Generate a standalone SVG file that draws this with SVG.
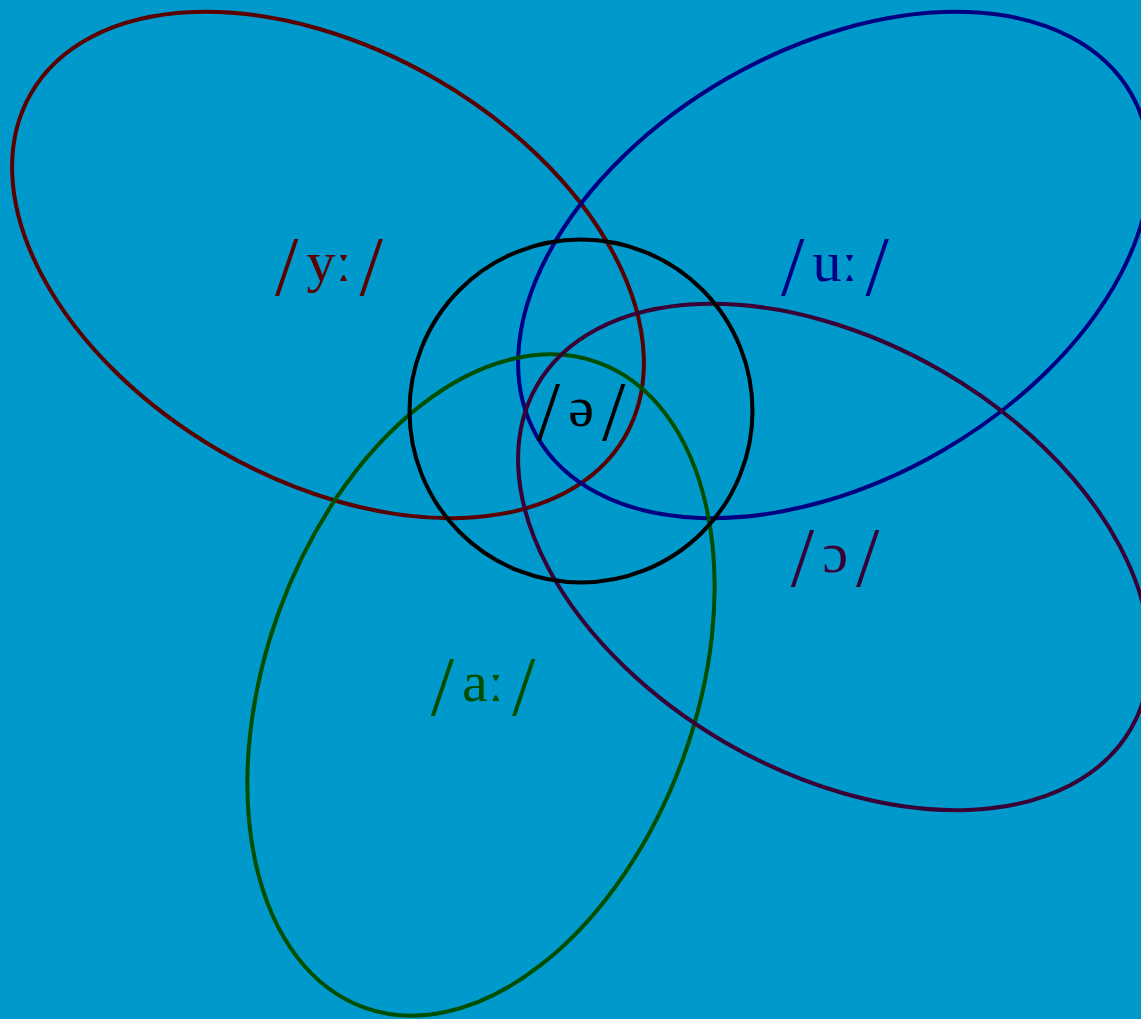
<svg xmlns="http://www.w3.org/2000/svg" width="1141" height="1019" viewBox="0 0 1141 1019">
<style>
.e{fill:none;stroke-width:4}
.t{font-family:"Liberation Serif","DejaVu Serif",serif;font-size:58px;text-anchor:middle}
.s{font-size:84px;font-weight:normal}
</style>
<rect width="1141" height="1019" fill="#0099cc"/>
<g id="connectors"></g>
<g id="set-y"><ellipse class="e" cx="328" cy="265" rx="343" ry="215" transform="rotate(30 328 265)" stroke="#5a0000"/></g>
<g id="set-u"><ellipse class="e" cx="834" cy="265" rx="343" ry="215" transform="rotate(-30 834 265)" stroke="#000080"/></g>
<g id="set-a"><ellipse class="e" cx="481" cy="685" rx="343" ry="215" transform="rotate(-70 481 685)" stroke="#004f00"/></g>
<g id="set-o"><ellipse class="e" cx="834" cy="557" rx="343" ry="215" transform="rotate(30 834 557)" stroke="#380035"/></g>
<g id="set-schwa"><circle class="e" cx="581" cy="411" r="171.5" stroke="#000"/></g>
<g id="label-y"><text class="t" x="329" y="281" fill="#5a0000"><tspan class="s" dy="14">/</tspan><tspan dx="8" dy="-14">yː</tspan><tspan class="s" dx="8" dy="14">/</tspan></text></g>
<g id="label-u"><text class="t" x="835" y="281" fill="#000080"><tspan class="s" dy="14">/</tspan><tspan dx="8" dy="-14">uː</tspan><tspan class="s" dx="8" dy="14">/</tspan></text></g>
<g id="label-schwa"><text class="t" x="581" y="426" fill="#000"><tspan class="s" dy="14">/</tspan><tspan dx="8" dy="-14">ə</tspan><tspan class="s" dx="8" dy="14">/</tspan></text></g>
<g id="label-o"><text class="t" x="835" y="572" fill="#380035"><tspan class="s" dy="14">/</tspan><tspan dx="8" dy="-14">ɔ</tspan><tspan class="s" dx="8" dy="14">/</tspan></text></g>
<g id="label-a"><text class="t" x="483" y="701" fill="#004f00"><tspan class="s" dy="14">/</tspan><tspan dx="8" dy="-14">aː</tspan><tspan class="s" dx="8" dy="14">/</tspan></text></g>
</svg>
